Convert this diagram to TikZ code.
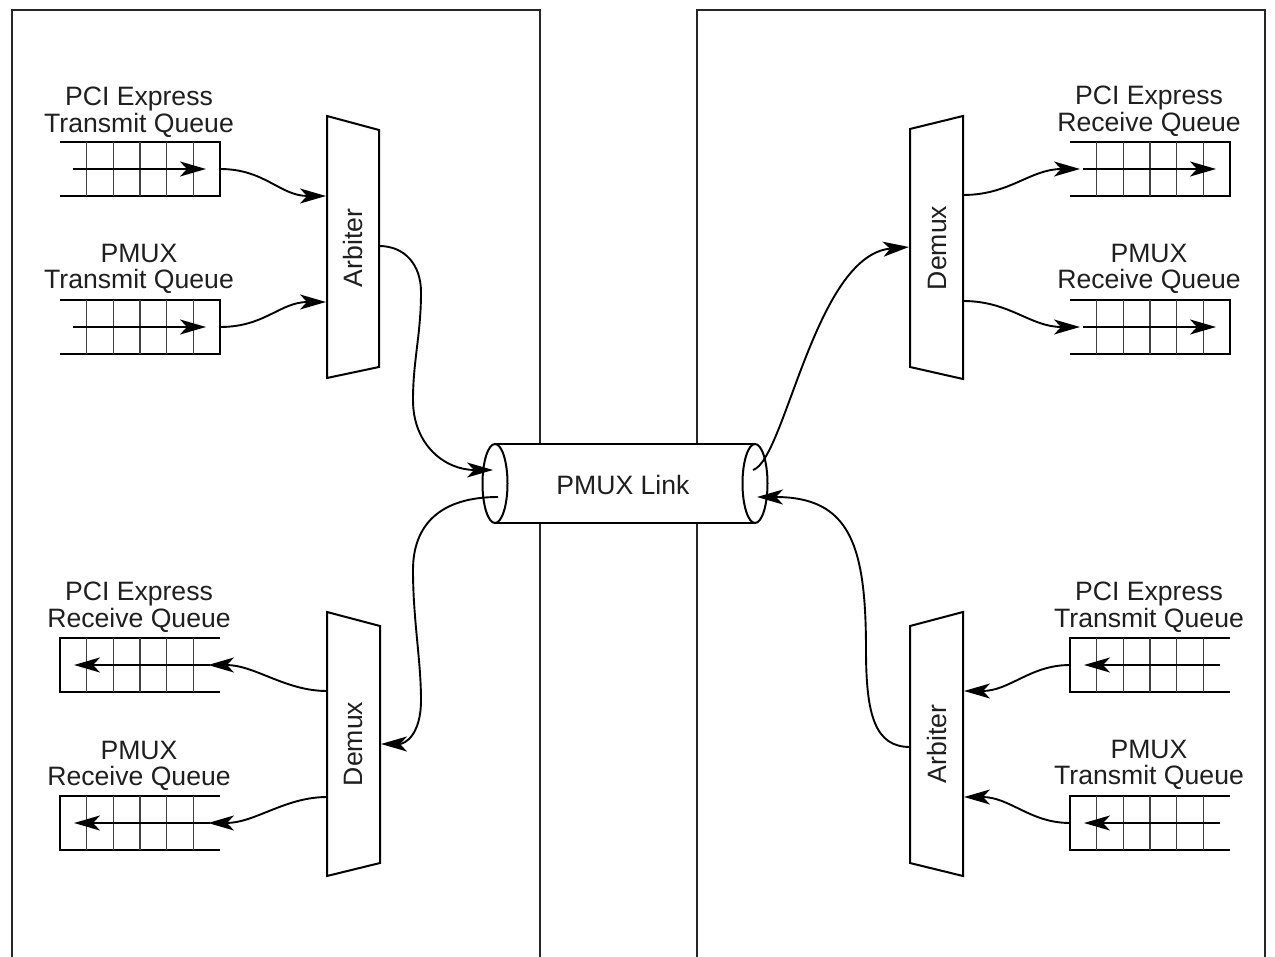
\documentclass[tikz,border=0pt]{standalone}
\usepackage{fontspec}
\setmainfont{Liberation Sans}
\usetikzlibrary{arrows.meta}
\tikzset{
  box/.style={line width=1.5pt, draw=black!85},
  qline/.style={line width=2pt},
  cell/.style={line width=1.4pt, draw=black!75},
  tipstyle/.style={-{Stealth[length=26pt,width=15pt,inset=7pt]}},
  arr/.style={line width=2pt, tipstyle},
  conn/.style={line width=1.9pt, tipstyle},
  blk/.style={line width=2pt, fill=white},
  lbl/.style={align=center, inner sep=0pt, text=black!88, font=\fontsize{26.6}{26.5}\selectfont},
  qR/.pic={
    \draw[qline] (0,0) -- (160,0) -- (160,54) -- (0,54);
    \foreach \k in {1,...,5} \draw[cell] ({26.667*\k},0) -- ({26.667*\k},54);
    \draw[arr] (13,27) -- (146,27);
    \coordinate (-out) at (160,27);
    \coordinate (-in) at (10,27);
  },
  qL/.pic={
    \draw[qline] (160,0) -- (0,0) -- (0,54) -- (160,54);
    \foreach \k in {1,...,5} \draw[cell] ({26.667*\k},0) -- ({26.667*\k},54);
    \draw[arr] (150,27) -- (14,27);
    \coordinate (-out) at (0,27);
    \coordinate (-in) at (148,27);
  }
}
\begin{document}
\begin{tikzpicture}[x=1pt,y=-1pt]
\useasboundingbox (0,0) rectangle (1275,957);

% enclosing boxes
\draw[box] (12,957) -- (12,10) -- (540,10) -- (540,957);
\draw[box] (697,957) -- (697,10) -- (1265,10) -- (1265,957);

% link cylinder
\fill[white] (495,444) rectangle (755,523);
\draw[qline] (495,444) -- (755,444) (495,523) -- (755,523);
\draw[qline, fill=white] (495,483.5) ellipse [x radius=12.5pt, y radius=39.5pt];
\draw[qline, fill=white] (755,483.5) ellipse [x radius=12.5pt, y radius=39.5pt];
\node[lbl] (link) at (623,485) {PMUX Link};
\coordinate (link-lin) at (493,470);
\coordinate (link-lout) at (498,497);
\coordinate (link-rout) at (753,470);
\coordinate (link-rin) at (757,497);

% left arbiter and demux
\draw[blk] (327,116) -- (379,130) -- (379,367) -- (327,378) -- cycle;
\node[lbl, rotate=90] (arbL) at (353,248) {Arbiter};
\coordinate (arbL-in1) at (326,196);
\coordinate (arbL-in2) at (326,302);
\coordinate (arbL-out) at (379,246);

\draw[blk] (327,612) -- (380,626) -- (380,863) -- (327,876) -- cycle;
\node[lbl, rotate=90] (demL) at (353,744) {Demux};
\coordinate (demL-in) at (381,744);
\coordinate (demL-out1) at (327,691);
\coordinate (demL-out2) at (327,797);

% right demux and arbiter
\draw[blk] (910,129) -- (963,116) -- (963,379) -- (910,367) -- cycle;
\node[lbl, rotate=90] (demR) at (937,248) {Demux};
\coordinate (demR-in) at (909,247);
\coordinate (demR-out1) at (963,195);
\coordinate (demR-out2) at (963,301);

\draw[blk] (910,626) -- (963,612) -- (963,876) -- (910,863) -- cycle;
\node[lbl, rotate=90] (arbR) at (937,744) {Arbiter};
\coordinate (arbR-in1) at (964,691);
\coordinate (arbR-in2) at (964,797);
\coordinate (arbR-out) at (910,747);

% queues
\pic (ltxa) at (60,142) {qR};
\pic (ltxb) at (60,300) {qR};
\pic (lrxa) at (60,638) {qL};
\pic (lrxb) at (60,796) {qL};
\pic (rrxa) at (1070,142) {qR};
\pic (rrxb) at (1070,300) {qR};
\pic (rtxa) at (1070,638) {qL};
\pic (rtxb) at (1070,796) {qL};

% queue labels
\node[lbl] (ltxa-lbl) at (139,112) {PCI Express\\Transmit Queue};
\node[lbl] (ltxb-lbl) at (139,269) {PMUX\\Transmit Queue};
\node[lbl] (lrxa-lbl) at (139,607) {PCI Express\\Receive Queue};
\node[lbl] (lrxb-lbl) at (139,766) {PMUX\\Receive Queue};
\node[lbl] (rrxa-lbl) at (1149,111) {PCI Express\\Receive Queue};
\node[lbl] (rrxb-lbl) at (1149,269) {PMUX\\Receive Queue};
\node[lbl] (rtxa-lbl) at (1149,607) {PCI Express\\Transmit Queue};
\node[lbl] (rtxb-lbl) at (1149,765) {PMUX\\Transmit Queue};

% connectors
\draw[conn] (ltxa-out) .. controls (265,169) and (280,196) .. (arbL-in1);
\draw[conn] (ltxb-out) .. controls (265,327) and (280,302) .. (arbL-in2);
\draw[conn] (arbL-out) .. controls (405,246) and (421,265) .. (421,292)
  .. controls (421,335) and (413,360) .. (413,400)
  .. controls (413,445) and (445,470) .. (link-lin);
\draw[conn] (link-lout) .. controls (440,497) and (413,525) .. (413,570)
  .. controls (413,620) and (421,660) .. (421,700)
  .. controls (421,735) and (405,744) .. (demL-in);
\draw[conn] (demL-out1) .. controls (285,691) and (255,665) .. (lrxa-in);
\draw[conn] (demL-out2) .. controls (285,797) and (255,823) .. (lrxb-in);
\draw[conn] (link-rout) .. controls (785,460) and (815,255) .. (demR-in);
\draw[conn] (arbR-out) .. controls (875,747) and (866,715) .. (866,650)
  .. controls (866,545) and (850,497) .. (link-rin);
\draw[conn] (demR-out1) .. controls (1010,195) and (1030,169) .. (rrxa-in);
\draw[conn] (demR-out2) .. controls (1010,301) and (1030,327) .. (rrxb-in);
\draw[conn] (rtxa-out) .. controls (1030,665) and (1010,691) .. (arbR-in1);
\draw[conn] (rtxb-out) .. controls (1030,823) and (1010,797) .. (arbR-in2);
\end{tikzpicture}
\end{document}
